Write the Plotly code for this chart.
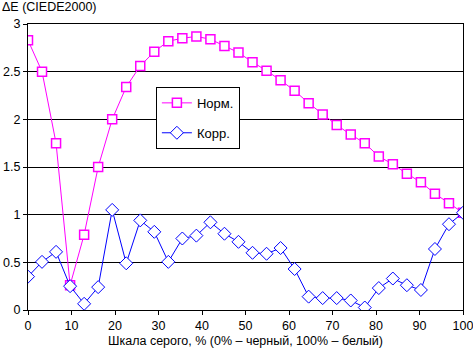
import plotly.graph_objects as go

n_points = 32
x_vals = [i * 100 / 31 for i in range(n_points)]

norm_vals = [2.83, 2.50, 1.75, 0.26, 0.79, 1.50, 2.00, 2.34, 2.56, 2.71,
             2.82, 2.85, 2.87, 2.84, 2.77, 2.70, 2.60, 2.51, 2.41, 2.30,
             2.17, 2.05, 1.94, 1.84, 1.75, 1.61, 1.53, 1.43, 1.34, 1.22,
             1.12, 1.02]
korr_vals = [0.35, 0.505, 0.61, 0.25, 0.065, 0.24, 1.05, 0.49, 0.94, 0.82,
             0.505, 0.75, 0.78, 0.92, 0.80, 0.715, 0.60, 0.59, 0.65, 0.43,
             0.14, 0.125, 0.125, 0.10, 0.026, 0.23, 0.33, 0.26, 0.21, 0.64,
             0.90, 1.02]

x_ticks = [0, 10, 20, 30, 40, 50, 60, 70, 80, 90, 100]
y_ticks = [0, 0.5, 1, 1.5, 2, 2.5, 3]
y_tick_labels = ["0", "0.5", "1", "1.5", "2", "2.5", "3"]

font_family = "Liberation Sans, Arial, sans-serif"

fig = go.Figure()
fig.add_trace(go.Scatter(
    x=x_vals, y=norm_vals, name="Норм.", mode="lines+markers",
    legendgroup="a",
    line=dict(color="#FF00FF", width=1),
    marker=dict(symbol="square", size=9, color="white",
                line=dict(color="#FF00FF", width=1.5)),
))
fig.add_trace(go.Scatter(
    x=x_vals, y=korr_vals, name="Корр.", mode="lines+markers",
    legendgroup="b",
    line=dict(color="#0000FF", width=1),
    marker=dict(symbol="diamond", size=10, color="white",
                line=dict(color="#0000FF", width=1)),
))

fig.update_layout(
    width=473, height=353,
    margin=dict(l=28, r=10, t=24, b=43, autoexpand=False),
    paper_bgcolor="white", plot_bgcolor="white",
    font=dict(family=font_family, size=12.5, color="black"),
    showlegend=True,
    legend=dict(x=0.294, y=0.78, xanchor="left", yanchor="top",
                bordercolor="black", borderwidth=1, bgcolor="white",
                font=dict(size=13), tracegroupgap=10, itemwidth=30),
    xaxis=dict(range=[0, 100], tickvals=x_ticks, showgrid=False, automargin=False,
               ticklabeloverflow="allow",
               showline=True, linecolor="black", linewidth=1, mirror=True,
               ticks="outside", ticklen=4, tickcolor="black", zeroline=False,
               title=dict(text="Шкала серого, % (0% – черный, 100% – белый)",
                          font=dict(size=12.5), standoff=4)),
    yaxis=dict(range=[0, 3], tickvals=y_ticks, ticktext=y_tick_labels, automargin=False,
               ticklabeloverflow="allow",
               showgrid=True, gridcolor="black", gridwidth=1,
               showline=True, linecolor="black", linewidth=1, mirror=True,
               ticks="outside", ticklen=4, tickcolor="black", zeroline=False),
    annotations=[dict(text="ΔE (CIEDE2000)", x=0, y=1, xref="paper", yref="paper",
                      xanchor="left", yanchor="bottom", showarrow=False,
                      xshift=-28, yshift=8, font=dict(size=12.5))],
)

fig.write_html("out.html")
